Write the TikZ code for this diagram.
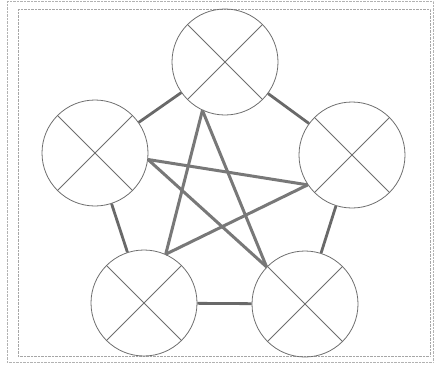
\documentclass[tikz,border=0pt]{standalone}
\usepackage{tikz}
\usetikzlibrary{positioning}
\definecolor{ringgray}{RGB}{110,110,110}
\definecolor{bondgray}{RGB}{105,105,105}

\begin{document}
\begin{tikzpicture}[x=1pt,y=-1pt,
    ring/.style={circle,draw=ringgray,line width=0.8pt,minimum size=106pt,inner sep=0pt},
    bond/.style={draw=bondgray,line width=2.8pt},
    starline/.style={draw=bondgray!90,line width=3pt}]
    \def\crossit#1{\draw[ringgray,line width=0.8pt] (#1.45) -- (#1.225) (#1.135) -- (#1.315);}

    \useasboundingbox (0,0) rectangle (434,365);
    \draw[gray!60,densely dotted] (7,1) rectangle (433,362);
    \draw[gray!70,densely dotted] (18,9) rectangle (430,356);

    \node[ring] (ctop) at (225,62) {};
    \node[ring] (cleft) at (95,153) {};
    \node[ring] (cright) at (352,155) {};
    \node[ring] (cbl) at (144,303) {};
    \node[ring] (cbr) at (305,304) {};

    \crossit{ctop}
    \crossit{cleft}
    \crossit{cright}
    \crossit{cbl}
    \crossit{cbr}

    % outer ring of bonds
    \draw[bond] (ctop) -- (cleft);
    \draw[bond] (ctop) -- (cright);
    \draw[bond] (cleft) -- (cbl);
    \draw[bond] (cright) -- (cbr);
    \draw[bond] (cbl) -- (cbr);

    % inner star
    \draw[starline] (ctop.245) -- (cbl.66);
    \draw[starline] (ctop.245) -- (cbr.136);
    \draw[starline] (cleft.353) -- (cright.214);
    \draw[starline] (cleft.353) -- (cbr.136);
    \draw[starline] (cright.214) -- (cbl.66);
\end{tikzpicture}
\end{document}
